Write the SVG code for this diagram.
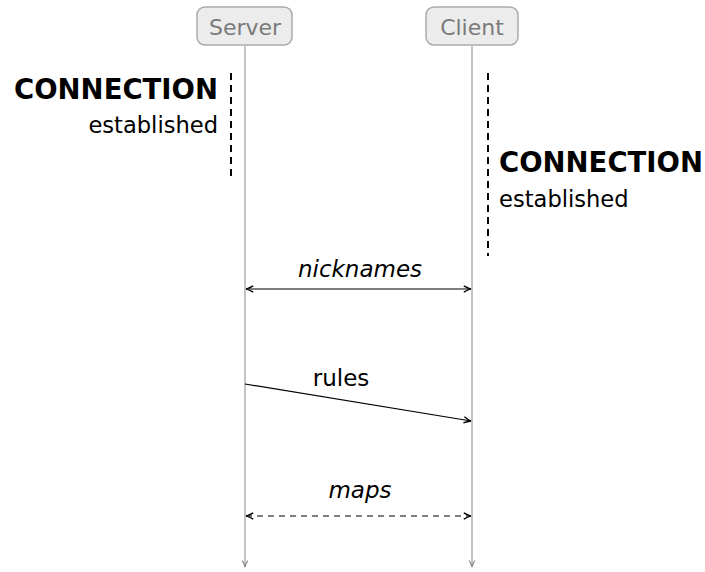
<svg xmlns="http://www.w3.org/2000/svg" width="705" height="572" viewBox="0 0 705 572">
  <defs>
    <marker id="ah" viewBox="0 0 10 10" refX="9" refY="5" markerWidth="9" markerHeight="9" orient="auto-start-reverse" markerUnits="userSpaceOnUse">
      <path d="M1,1.5 Q5,4 9,5 Q5,6 1,8.5" fill="none" stroke="#000" stroke-width="1.4"/>
    </marker>
    <marker id="ahg" viewBox="0 0 10 10" refX="9" refY="5" markerWidth="8" markerHeight="8" orient="auto" markerUnits="userSpaceOnUse">
      <path d="M1,1.5 Q5,4 9,5 Q5,6 1,8.5" fill="none" stroke="#888" stroke-width="1.3"/>
    </marker>
  </defs>
  <style>
    text { font-family: "DejaVu Sans", "Liberation Sans", sans-serif; }
    .actor rect { fill: #ececec; stroke: #aaaaaa; stroke-width: 1.5; }
    .actor text { fill: #7a7a7a; font-size: 22px; text-anchor: middle; }
    .life { stroke: #888; stroke-width: 1; fill: none; }
    .phase { stroke: #000; stroke-width: 2; stroke-dasharray: 7 5; fill: none; }
    .big { font-weight: bold; font-size: 27.5px; fill: #000; }
    .small { font-size: 22.6px; fill: #000; }
    .msg { stroke: #000; stroke-width: 1.2; fill: none; }
    .lbl { font-size: 23px; fill: #000; text-anchor: middle; }
  </style>
  <rect width="705" height="572" fill="#fff"/>

  <g id="connectors">
    <line class="life" x1="245" y1="46" x2="245" y2="567" marker-end="url(#ahg)"/>
    <line class="life" x1="472" y1="46" x2="472" y2="567" marker-end="url(#ahg)"/>
    <line class="msg" x1="246" y1="289" x2="471" y2="289" marker-start="url(#ah)" marker-end="url(#ah)"/>
    <line class="msg" x1="245" y1="384" x2="471" y2="421" marker-end="url(#ah)"/>
    <line class="msg" x1="246" y1="516" x2="471" y2="516" stroke-dasharray="6 5" marker-start="url(#ah)" marker-end="url(#ah)"/>
  </g>

  <g id="server" class="actor">
    <rect x="197" y="7" width="95" height="38" rx="8"/>
    <text x="245" y="35">Server</text>
  </g>
  <g id="client" class="actor">
    <rect x="426" y="7" width="92" height="38" rx="8"/>
    <text x="472" y="35">Client</text>
  </g>

  <g id="server-connection">
    <line class="phase" x1="231" y1="73" x2="231" y2="179"/>
    <text class="big" x="218" y="99" text-anchor="end">CONNECTION</text>
    <text class="small" x="218" y="133" text-anchor="end">established</text>
  </g>
  <g id="client-connection">
    <line class="phase" x1="488" y1="73" x2="488" y2="256"/>
    <text class="big" x="499" y="172">CONNECTION</text>
    <text class="small" x="499" y="207">established</text>
  </g>

  <g id="labels">
    <text class="lbl" x="360" y="277" font-style="italic">nicknames</text>
    <text class="lbl" x="341" y="386" font-size="22">rules</text>
    <text class="lbl" x="360" y="498" font-style="italic">maps</text>
  </g>
</svg>
